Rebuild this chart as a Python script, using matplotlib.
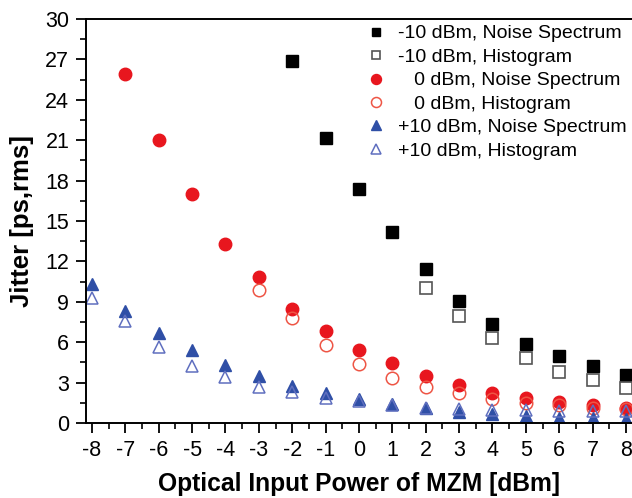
import matplotlib.pyplot as plt
from matplotlib.ticker import MultipleLocator

plt.rcParams['font.family'] = ['Liberation Sans', 'DejaVu Sans']
plt.rcParams['axes.unicode_minus'] = False

power = list(range(-8, 9))

# -10 dBm
m10_noise_x = [-2, -1, 0, 1, 2, 3, 4, 5, 6, 7, 8]
m10_noise = [26.9, 21.2, 17.4, 14.2, 11.4, 9.05, 7.35, 5.9, 4.95, 4.25, 3.55]
m10_hist_x = [2, 3, 4, 5, 6, 7, 8]
m10_hist = [10.0, 7.95, 6.3, 4.8, 3.8, 3.2, 2.6]

# 0 dBm
z_noise_x = [-7, -6, -5, -4, -3, -2, -1, 0, 1, 2, 3, 4, 5, 6, 7, 8]
z_noise = [25.9, 21.0, 17.0, 13.3, 10.85, 8.45, 6.8, 5.45, 4.45, 3.5, 2.85,
           2.25, 1.85, 1.55, 1.3, 1.15]
z_hist_x = [-3, -2, -1, 0, 1, 2, 3, 4, 5, 6, 7, 8]
z_hist = [9.9, 7.8, 5.8, 4.35, 3.35, 2.7, 2.2, 1.75, 1.5, 1.3, 1.15, 1.05]

# +10 dBm
p10_noise = [10.3, 8.35, 6.7, 5.4, 4.3, 3.5, 2.75, 2.2, 1.75, 1.4, 1.1, 0.85,
             0.65, 0.5, 0.4, 0.35, 0.3]
p10_hist = [9.3, 7.6, 5.65, 4.25, 3.45, 2.65, 2.3, 1.85, 1.65, 1.35, 1.15,
            1.05, 1.0, 0.95, 0.9, 0.9, 0.9]

fig = plt.figure(figsize=(6.32, 4.98), dpi=100)
ax = fig.add_axes([0.136, 0.1506, 0.864, 0.8112])

ax.plot(m10_noise_x, m10_noise, 's', color='black', ms=8,
        label='-10 dBm, Noise Spectrum')
ax.plot(m10_hist_x, m10_hist, 's', mfc='none', mec='#555555', mew=1.2, ms=8,
        label='-10 dBm, Histogram')
ax.plot(z_noise_x, z_noise, 'o', color='#e8161e', ms=9,
        label='   0 dBm, Noise Spectrum')
ax.plot(z_hist_x, z_hist, 'o', mfc='none', mec='#ee5545', mew=1.1, ms=9,
        label='   0 dBm, Histogram')
ax.plot(power, p10_noise, '^', color='#2f4fa6', ms=9,
        label='+10 dBm, Noise Spectrum')
ax.plot(power, p10_hist, '^', mfc='none', mec='#5f6fbf', mew=1.1, ms=9,
        label='+10 dBm, Histogram')

ax.set_xlim(-8.18, 8.18)
ax.set_ylim(0, 30)
ax.xaxis.set_major_locator(MultipleLocator(1))
ax.xaxis.set_minor_locator(MultipleLocator(0.5))
ax.yaxis.set_major_locator(MultipleLocator(3))
ax.yaxis.set_minor_locator(MultipleLocator(1.5))
ax.tick_params(which='major', direction='out', length=7, width=1.3,
               labelsize=15.5, pad=5)
ax.tick_params(which='minor', direction='out', length=4, width=1.2)
ax.spines['right'].set_visible(False)
for s in ['left', 'bottom', 'top']:
    ax.spines[s].set_linewidth(1.4)

ax.set_xlabel('Optical Input Power of MZM [dBm]', fontsize=17.7,
              fontweight='bold', labelpad=8)
ax.set_ylabel('Jitter [ps,rms]', fontsize=18.5, fontweight='bold', labelpad=8)

ax.legend(loc='upper right', bbox_to_anchor=(1.0, 1.0), frameon=False,
          fontsize=14, handletextpad=0.6, labelspacing=0.3, borderpad=0.1,
          borderaxespad=0.2, handlelength=1.0, markerscale=0.8)

fig.savefig('out.png', dpi=100)
